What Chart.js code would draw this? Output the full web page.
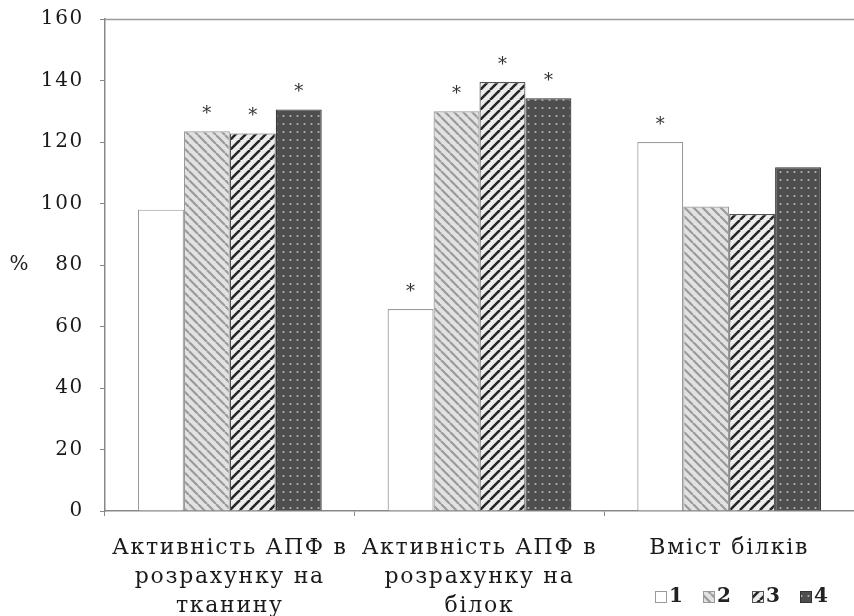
<!DOCTYPE html>
<html>
<head>
<meta charset="utf-8">
<script src="https://cdn.jsdelivr.net/npm/chart.js@4/dist/chart.umd.min.js"></script>
<style>
  html, body { margin: 0; padding: 0; background: #ffffff; }
  #wrap { width: 854px; height: 616px; position: relative; }
</style>
</head>
<body>
<div id="wrap"><canvas id="c" width="854" height="616"></canvas></div>
<script>
// ---- data ----
const categories = [
  ['Активність АПФ в', 'розрахунку на', 'тканину'],
  ['Активність АПФ в', 'розрахунку на', 'білок'],
  'Вміст білків'
];
const seriesNames = ['1', '2', '3', '4'];
const series1 = [98, 65.7, 120];
const series2 = [123.5, 130, 99];
const series3 = [122.8, 139.5, 96.6];
const series4 = [130.6, 134.2, 111.8];
const stars1 = [false, true, true];
const stars2 = [true, true, false];
const stars3 = [true, true, false];
const stars4 = [true, true, false];
const yTicks = [0, 20, 40, 60, 80, 100, 120, 140, 160];
const yTitle = '%';

const SERIF = '"DejaVu Serif", "Liberation Serif", serif';

// ---- patterns ----
function hatch(bg, fg, lw, s, dir) {
  const c = document.createElement('canvas');
  c.width = s; c.height = s;
  const x = c.getContext('2d');
  x.fillStyle = bg; x.fillRect(0, 0, s, s);
  x.strokeStyle = fg; x.lineWidth = lw;
  x.beginPath();
  for (const k of [-s, 0, s]) {
    if (dir === '/') { x.moveTo(k, s); x.lineTo(k + s, 0); }
    else { x.moveTo(k, 0); x.lineTo(k + s, s); }
  }
  x.stroke();
  return x.createPattern(c, 'repeat');
}
function dots(bg, fg, w, h, r) {
  const c = document.createElement('canvas');
  c.width = w; c.height = h;
  const x = c.getContext('2d');
  x.fillStyle = bg; x.fillRect(0, 0, w, h);
  x.fillStyle = fg;
  x.beginPath(); x.arc(w / 2, h / 2, r, 0, Math.PI * 2); x.fill();
  return x.createPattern(c, 'repeat');
}
const fill1 = '#ffffff';
const fill2 = hatch('#e2e2e2', '#9a9a9a', 2.2, 9, '\\');
const fill3 = hatch('#ececec', '#262626', 2.6, 10, '/');
const fill4 = dots('#4e4e4e', '#b4b4b4', 7, 8, 1.1);
const fills = [fill1, fill2, fill3, fill4];
const borders = ['#9a9a9a', '#9a9a9a', '#555555', '#333333'];
const starFlags = [stars1, stars2, stars3, stars4];

// ---- plugins ----
const spacing = {
  id: 'spacing',
  beforeDraw(chart) { chart.ctx.letterSpacing = '1.7px'; }
};
const decor = {
  id: 'decor',
  afterDatasetsDraw(chart) {
    const ctx = chart.ctx;
    const a = chart.chartArea;
    ctx.save();
    ctx.letterSpacing = '0px';
    // top frame line
    ctx.strokeStyle = '#9a9a9a'; ctx.lineWidth = 1.5;
    ctx.beginPath(); ctx.moveTo(a.left, a.top + 0.5); ctx.lineTo(a.right, a.top + 0.5); ctx.stroke();
    // asterisks
    ctx.fillStyle = '#333';
    ctx.font = '18px ' + SERIF;
    ctx.textAlign = 'center'; ctx.textBaseline = 'alphabetic';
    starFlags.forEach((flags, i) => {
      const meta = chart.getDatasetMeta(i);
      flags.forEach((f, j) => {
        if (!f) return;
        const el = meta.data[j];
        ctx.fillText('*', el.x, el.y - 12);
      });
    });
    // y title
    ctx.fillStyle = '#222';
    ctx.font = '20px ' + SERIF;
    ctx.textAlign = 'center'; ctx.textBaseline = 'middle';
    ctx.fillText(yTitle, 19, (a.top + a.bottom) / 2);
    // legend
    const lx = [655, 703, 752, 800];
    const ly = 597;
    ctx.font = 'bold 20px ' + SERIF;
    ctx.textAlign = 'left'; ctx.textBaseline = 'middle';
    seriesNames.forEach((n, i) => {
      ctx.fillStyle = fills[i];
      ctx.fillRect(lx[i], ly - 6, 11, 12);
      ctx.strokeStyle = borders[i]; ctx.lineWidth = 1;
      ctx.strokeRect(lx[i] + 0.5, ly - 5.5, 11, 11);
      ctx.fillStyle = '#222';
      ctx.fillText(n, lx[i] + 14, ly);
    });
    ctx.restore();
  }
};

const mk = (label, data, i) => ({
  label, data,
  backgroundColor: fills[i],
  borderColor: borders[i],
  borderWidth: 1.2,
  categoryPercentage: 0.736,
  barPercentage: 1.0
});

new Chart(document.getElementById('c'), {
  type: 'bar',
  data: {
    labels: categories,
    datasets: [
      mk(seriesNames[0], series1, 0),
      mk(seriesNames[1], series2, 1),
      mk(seriesNames[2], series3, 2),
      mk(seriesNames[3], series4, 3)
    ]
  },
  options: {
    responsive: false,
    animation: false,
    devicePixelRatio: 1,
    layout: { padding: { top: 19, right: 0, left: 0, bottom: 0 } },
    plugins: { legend: { display: false }, tooltip: { enabled: false } },
    scales: {
      x: {
        afterFit(s) { s.height = 105; s.paddingLeft = 0; s.paddingRight = 0; },
        grid: { display: true, drawOnChartArea: false, drawTicks: true, tickLength: 5, color: '#888' },
        border: { color: '#888', width: 1.5 },
        ticks: {
          color: '#1a1a1a',
          font: { family: SERIF, size: 22, lineHeight: 1.32 },
          maxRotation: 0, autoSkip: false, padding: 18
        }
      },
      y: {
        min: 0, max: 160,
        afterFit(s) { s.width = 105; s.paddingTop = 0; s.paddingBottom = 0; },
        afterBuildTicks(s) { s.ticks = yTicks.map(v => ({ value: v })); },
        grid: { display: true, drawOnChartArea: false, drawTicks: true, tickLength: 5, color: '#888' },
        border: { color: '#888', width: 1.5 },
        ticks: {
          color: '#1a1a1a',
          font: { family: SERIF, size: 20 },
          padding: 16
        }
      }
    }
  },
  plugins: [spacing, decor]
});
</script>
</body>
</html>
